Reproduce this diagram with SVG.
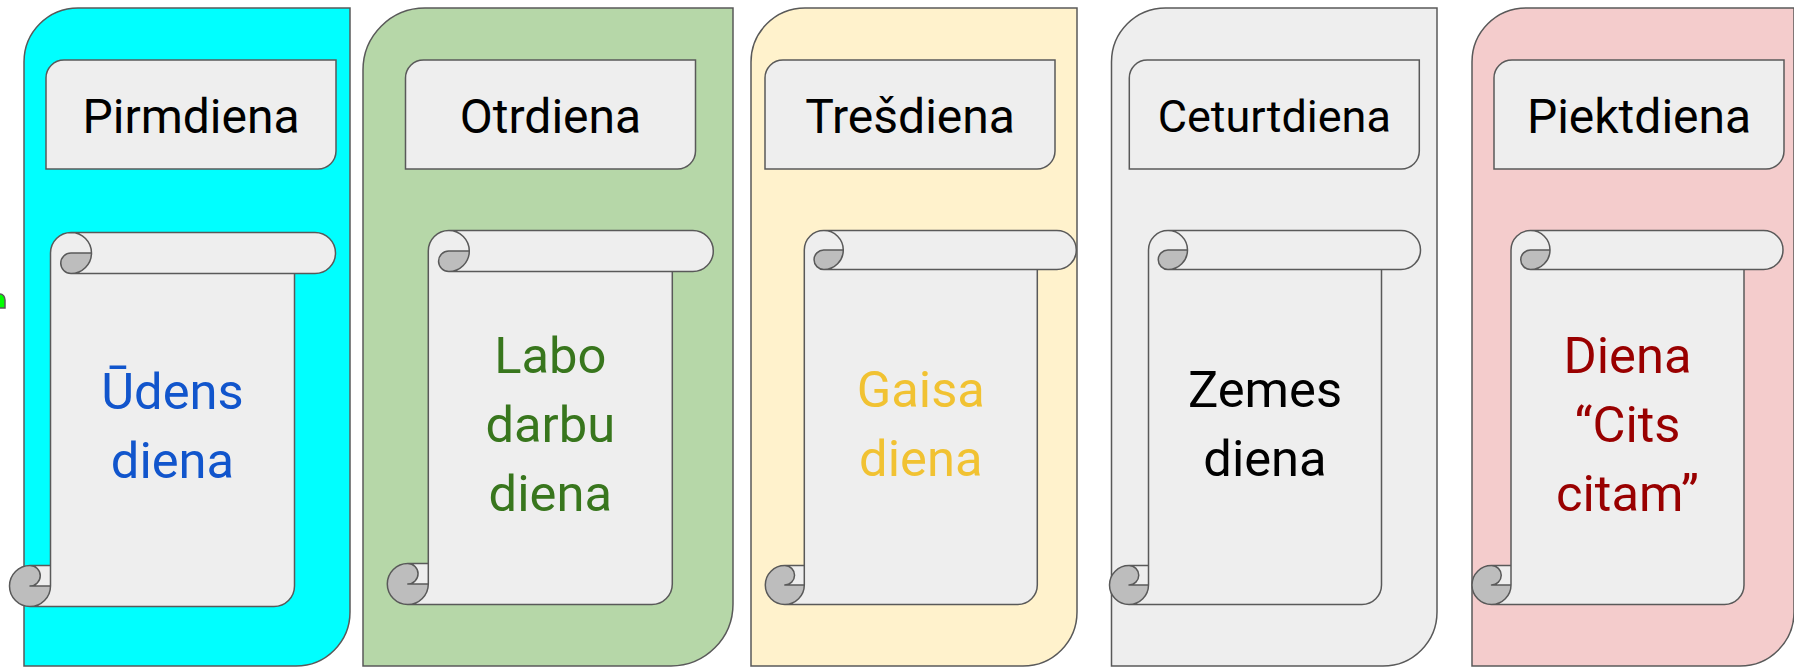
<svg xmlns="http://www.w3.org/2000/svg" xmlns:xlink="http://www.w3.org/1999/xlink" width="1794" height="667" viewBox="0 0 1794 667">
<style>
.card{stroke:#595959;stroke-width:1.5}
.hdr{fill:#eeeeee;stroke:#595959;stroke-width:1.5}
.sfill{fill:#eeeeee;stroke:none}
.sdark{fill:#bdbdbd;stroke:none}
.sline{fill:none;stroke:#595959;stroke-width:1.5;stroke-linejoin:round}
text{font-family:Roboto,"Liberation Sans",sans-serif;font-size:48px;text-anchor:middle}
.ht{fill:#000000}
.bt{font-size:50.7px}
</style>
<defs>
<path id="hdrShape" class="hdr" d="M0,18 A18,18 0 0 1 18,0 L290,0 L290,91 A18,18 0 0 1 272,109 L0,109 Z"/>
<g id="scrollA">
<path class="sfill" d="M20.5,374 A20.5,20.5 0 0 0 41,353.5 L20.5,353.5 A10.25,10.25 0 0 0 20.5,333 L41,333 L41,20.5 A20.5,20.5 0 0 1 61.5,0 L305.5,0 A20.5,20.5 0 0 1 305.5,41 L285,41 L285,353.5 A20.5,20.5 0 0 1 264.5,374 Z M82,20.5 A20.5,20.5 0 0 1 61.5,41 A10.25,10.25 0 0 1 61.5,20.5 Z"/>
<path class="sdark" d="M82,20.5 A20.5,20.5 0 0 1 61.5,41 A10.25,10.25 0 0 1 61.5,20.5 Z M41,353.5 A20.5,20.5 0 1 1 20.5,333 A10.25,10.25 0 0 1 20.5,353.5 Z"/>
<path class="sline" d="M41,333 L41,20.5 A20.5,20.5 0 0 1 61.5,0 L305.5,0 A20.5,20.5 0 0 1 305.5,41 L285,41 L285,353.5 A20.5,20.5 0 0 1 264.5,374 L20.5,374 A20.5,20.5 0 0 1 20.5,333 Z M61.5,0 A20.5,20.5 0 0 1 61.5,41 A10.25,10.25 0 0 1 61.5,20.5 L82,20.5 M285,41 L61.5,41 M20.5,333 A10.25,10.25 0 0 1 20.5,353.5 L41,353.5 M20.5,374 A20.5,20.5 0 0 0 41,353.5 L41,333"/>
</g>
<g id="scrollB">
<path class="sfill" d="M19.5,374 A19.5,19.5 0 0 0 39,354.5 L19.5,354.5 A9.75,9.75 0 0 0 19.5,335 L39,335 L39,19.5 A19.5,19.5 0 0 1 58.5,0 L291.5,0 A19.5,19.5 0 0 1 291.5,39 L272,39 L272,354.5 A19.5,19.5 0 0 1 252.5,374 Z M78,19.5 A19.5,19.5 0 0 1 58.5,39 A9.75,9.75 0 0 1 58.5,19.5 Z"/>
<path class="sdark" d="M78,19.5 A19.5,19.5 0 0 1 58.5,39 A9.75,9.75 0 0 1 58.5,19.5 Z M39,354.5 A19.5,19.5 0 1 1 19.5,335 A9.75,9.75 0 0 1 19.5,354.5 Z"/>
<path class="sline" d="M39,335 L39,19.5 A19.5,19.5 0 0 1 58.5,0 L291.5,0 A19.5,19.5 0 0 1 291.5,39 L272,39 L272,354.5 A19.5,19.5 0 0 1 252.5,374 L19.5,374 A19.5,19.5 0 0 1 19.5,335 Z M58.5,0 A19.5,19.5 0 0 1 58.5,39 A9.75,9.75 0 0 1 58.5,19.5 L78,19.5 M272,39 L58.5,39 M19.5,335 A9.75,9.75 0 0 1 19.5,354.5 L39,354.5 M19.5,374 A19.5,19.5 0 0 0 39,354.5 L39,335"/>
</g>
</defs>
<rect width="1794" height="667" fill="#ffffff"/>

<g id="green-edge">
<path d="M-10,308 L-10,294 L0,294 A5,6 0 0 1 5,300 L5,308 Z" fill="#00ff00" stroke="#595959" stroke-width="1.5"/>
</g>

<g id="monday">
<path class="card" fill="#00ffff" d="M24,62 A54,54 0 0 1 78,8 L350,8 L350,612 A54,54 0 0 1 296,666 L24,666 Z"/>
<use xlink:href="#hdrShape" href="#hdrShape" transform="translate(46,60)"/>
<text class="ht" x="191" y="132.5">Pirmdiena</text>
<use xlink:href="#scrollA" href="#scrollA" transform="translate(9.5,232.5)"/>
<text class="bt" fill="#1155cc"><tspan x="172.5" y="409">Ūdens</tspan><tspan x="172.5" y="478">diena</tspan></text>
</g>

<g id="tuesday">
<path class="card" fill="#b6d7a8" d="M363,70 A62,62 0 0 1 425,8 L733,8 L733,604 A62,62 0 0 1 671,666 L363,666 Z"/>
<use xlink:href="#hdrShape" href="#hdrShape" transform="translate(405.5,60)"/>
<text class="ht" x="550.5" y="132.5">Otrdiena</text>
<use xlink:href="#scrollA" href="#scrollA" transform="translate(387.3,230.5)"/>
<text class="bt" fill="#38761d"><tspan x="550.3" y="373">Labo</tspan><tspan x="550.3" y="442">darbu</tspan><tspan x="550.3" y="511">diena</tspan></text>
</g>

<g id="wednesday">
<path class="card" fill="#fff2cc" d="M751,62 A54,54 0 0 1 805,8 L1077,8 L1077,612 A54,54 0 0 1 1023,666 L751,666 Z"/>
<use xlink:href="#hdrShape" href="#hdrShape" transform="translate(765,60)"/>
<text class="ht" x="910" y="132.5">Trešdiena</text>
<use xlink:href="#scrollB" href="#scrollB" transform="translate(765.3,230.5)"/>
<text class="bt" fill="#f1c232"><tspan x="920.8" y="407">Gaisa</tspan><tspan x="920.8" y="476">diena</tspan></text>
</g>

<g id="thursday">
<path class="card" fill="#eeeeee" d="M1111.5,62 A54,54 0 0 1 1165.5,8 L1437,8 L1437,612 A54,54 0 0 1 1383,666 L1111.5,666 Z"/>
<use xlink:href="#hdrShape" href="#hdrShape" transform="translate(1129.3,60)"/>
<text class="ht" x="1274.3" y="131.5" style="font-size:45px">Ceturtdiena</text>
<use xlink:href="#scrollB" href="#scrollB" transform="translate(1109.5,230.5)"/>
<text class="bt" fill="#000000"><tspan x="1265" y="407">Zemes</tspan><tspan x="1265" y="476">diena</tspan></text>
</g>

<g id="friday">
<path class="card" fill="#f4cccc" d="M1472,62 A54,54 0 0 1 1526,8 L1794,8 L1794,612 A54,54 0 0 1 1740,666 L1472,666 Z"/>
<use xlink:href="#hdrShape" href="#hdrShape" transform="translate(1494,60)"/>
<text class="ht" x="1639" y="132.5">Piektdiena</text>
<use xlink:href="#scrollB" href="#scrollB" transform="translate(1472,230.5)"/>
<text class="bt" fill="#990000"><tspan x="1627.5" y="373">Diena</tspan><tspan x="1627.5" y="442">“Cits</tspan><tspan x="1627.5" y="511">citam”</tspan></text>
</g>

<g id="connectors"/>
</svg>
